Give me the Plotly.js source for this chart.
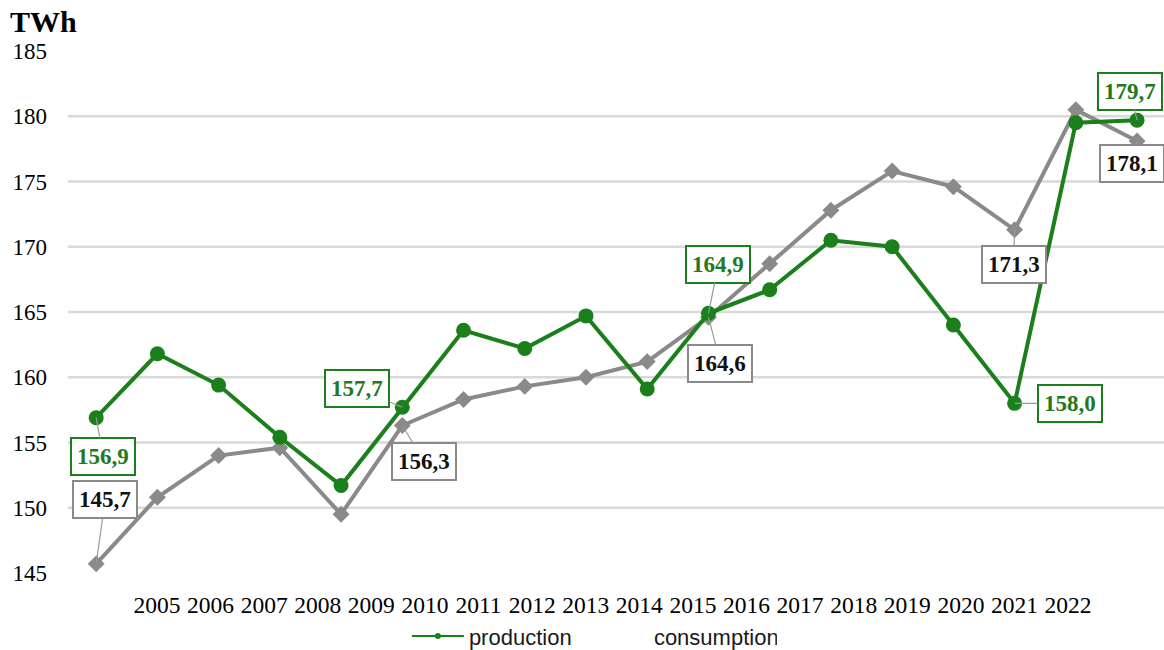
<!DOCTYPE html>
<html>
<head>
<meta charset="utf-8">
<script src="https://cdn.plot.ly/plotly-3.0.1.min.js"></script>
<style>html,body{margin:0;padding:0;background:#fff;}#chart{width:1164px;height:650px;}</style>
</head>
<body>
<div id="chart"></div>
<pre id="err" style="position:absolute;left:0;top:0;color:red;font-size:12px;"></pre>
<script>
// ---- data ----
const years = ['2005','2006','2007','2008','2009','2010','2011','2012','2013','2014','2015','2016','2017','2018','2019','2020','2021','2022'];
const production = [156.9,161.8,159.4,155.4,151.7,157.7,163.6,162.2,164.7,159.1,164.9,166.7,170.5,170.0,164.0,158.0,179.5,179.7];
const consumption = [145.7,150.8,154.0,154.6,149.5,156.3,158.3,159.3,160.0,161.2,164.6,168.7,172.8,175.8,174.6,171.3,180.5,178.1];
const gridValues = [150,155,160,165,170,175,180];
const yTicks = [145,150,155,160,165,170,175,180,185];
const seriesNames = ['production','consumption'];
const unitLabel = 'TWh';
// labelled points: index into the series
const prodLabelIdx = [0,5,10,15,17];
const consLabelIdx = [0,5,10,15,17];

try {
// ---- style / placement ----
const GREEN = '#1b7f1b', GRAY = '#8a8a8a';
const prodOffsets = {0:[7,39],5:[-45,-19],10:[10,-49],15:[55,0],17:[-7,-29]};
const consOffsets = {0:[9,-64],5:[22,36],10:[12,46],15:[-1,35],17:[-5,22]};
const fmt = v => v.toFixed(1).replace('.', ',');

const traces = [
  {x: years, y: consumption, type:'scatter', mode:'lines+markers', name: seriesNames[1], showlegend:false,
   line:{color:GRAY, width:4}, marker:{symbol:'diamond', size:13, color:GRAY}, hoverinfo:'skip'},
  {x: years, y: production, type:'scatter', mode:'lines+markers', name: seriesNames[0], showlegend:false,
   line:{color:GREEN, width:4}, marker:{symbol:'circle', size:15, color:GREEN}, hoverinfo:'skip'},
  {x: [null], y: [null], type:'scatter', mode:'lines+markers', name: seriesNames[0],
   line:{color:GREEN, width:2}, marker:{symbol:'circle', size:6, color:GREEN}, hoverinfo:'skip'},
  {x: [null], y: [null], type:'scatter', mode:'lines', name: seriesNames[1],
   line:{color:'rgba(0,0,0,0)', width:2}, hoverinfo:'skip'},
  {x: years, y: production, xaxis:'x2', type:'scatter', mode:'markers', showlegend:false,
   marker:{opacity:0, size:1}, hoverinfo:'skip'}
];

const annotations = [];
prodLabelIdx.forEach(i => {
  annotations.push({x: i, y: production[i], xref:'x', yref:'y', text:'<b>'+fmt(production[i])+'</b>',
    showarrow:true, arrowhead:0, arrowwidth:1.2, arrowcolor:'#9a9a9a', ax:prodOffsets[i][0], ay:prodOffsets[i][1],
    font:{family:'Liberation Serif', size:23, color:'#217a21'}, bgcolor:'#ffffff', bordercolor:GREEN, borderwidth:2, borderpad:5});
});
consLabelIdx.forEach(i => {
  annotations.push({x: i, y: consumption[i], xref:'x', yref:'y', text:'<b>'+fmt(consumption[i])+'</b>',
    showarrow:true, arrowhead:0, arrowwidth:1.2, arrowcolor:'#9a9a9a', ax:consOffsets[i][0], ay:consOffsets[i][1],
    font:{family:'Liberation Serif', size:23, color:'#111111'}, bgcolor:'#ffffff', bordercolor:GRAY, borderwidth:2, borderpad:5});
});

const shapes = gridValues.map(v => ({type:'line', xref:'paper', yref:'y', x0:0, x1:1, y0:v, y1:v,
  line:{color:'#d9d9d9', width:2.5}, layer:'below'}));

const layout = {
  width:1164, height:650,
  margin:{l:68, r:0, t:51, b:77, autoexpand:false},
  paper_bgcolor:'#fff', plot_bgcolor:'#fff',
  title:{text:'<b>'+unitLabel+'</b>', xref:'container', yref:'container', x:10/1164, xanchor:'left', y:1-21/650, yanchor:'middle',
    font:{family:'Liberation Serif', size:30, color:'#000'}},
  xaxis:{type:'category', range:[-0.46,17.44], automargin:false, showticklabels:false, showgrid:false, zeroline:false, showline:false, ticks:''},
  xaxis2:{type:'category', overlaying:'x', anchor:'y', side:'bottom', range:[-1.66,18.79], automargin:false, showgrid:false, zeroline:false,
    showline:false, ticks:'', ticklabelstandoff:15, tickfont:{family:'Liberation Serif', size:23.5, color:'#000'}},
  yaxis:{range:[145,185], tickvals:yTicks, automargin:false, showgrid:false, zeroline:false, showline:false, ticks:'',
    ticklabelstandoff:20, tickfont:{family:'Liberation Serif', size:23, color:'#000'}},
  shapes: shapes,
  annotations: annotations,
  showlegend:true,
  legend:{orientation:'h', x:0.478, xanchor:'center', y:-0.121, yanchor:'middle', font:{family:'Liberation Sans', size:22, color:'#1a1a1a'},
    itemwidth:52, entrywidth:118, bgcolor:'rgba(0,0,0,0)'},
  hovermode:false
};

Plotly.newPlot('chart', traces, layout, {staticPlot:true, displayModeBar:false}).catch(e => {document.getElementById('err').textContent = String(e.stack||e);});
} catch (e) { document.getElementById('err').textContent = String(e.stack||e); }
</script>
</body>
</html>
